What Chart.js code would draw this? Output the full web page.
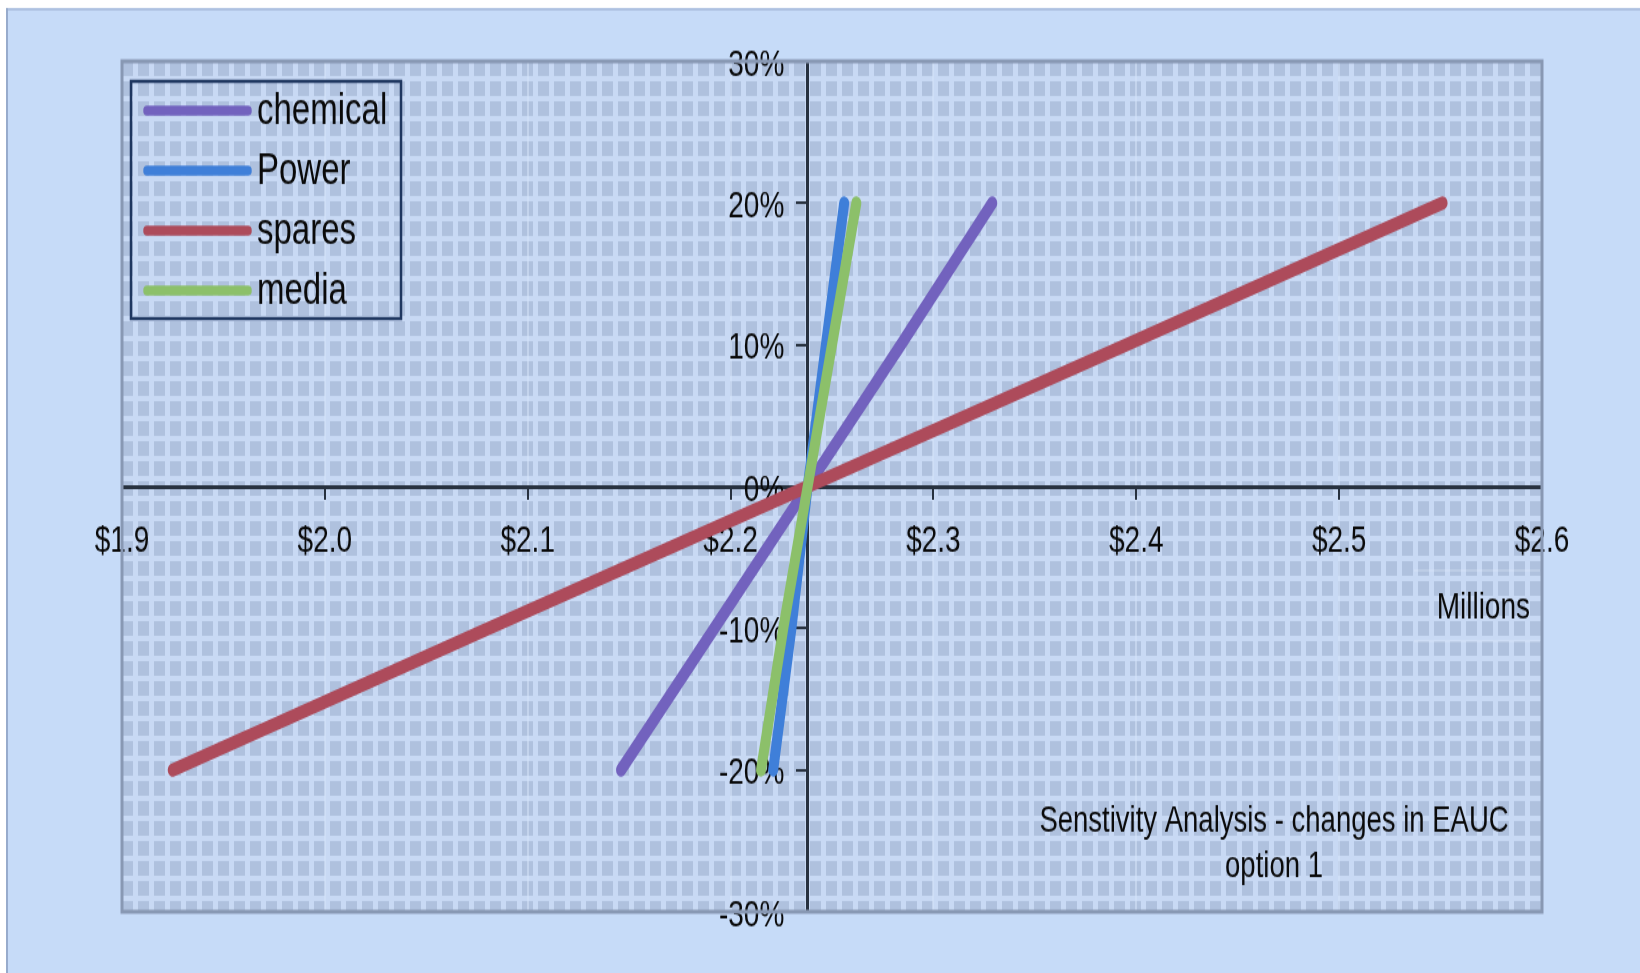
<!DOCTYPE html>
<html>
<head>
<meta charset="utf-8">
<title>Senstivity Analysis - changes in EAUC</title>
<script src="https://cdn.jsdelivr.net/npm/chart.js@4.4.1/dist/chart.umd.min.js"></script>
<style>
html,body{margin:0;padding:0;background:#fff;overflow:hidden}
#chartEAUC{display:block}
</style>
</head>
<body>
<canvas id="chartEAUC" width="1640" height="730" style="width:1640px;height:973px"></canvas>
<script>
// EAUC ($ millions) against the change applied to each input, option 1
var cambios=[-0.2,-0.1,0,0.1,0.2];
var eaucChemical=[2.146,2.192,2.238,2.284,2.329];
var eaucPower=[2.221,2.230,2.238,2.247,2.256];
var eaucSpares=[1.925,2.081,2.238,2.395,2.551];
var eaucMedia=[2.215,2.226,2.238,2.250,2.262];
var series=['chemical','Power','spares','media'];
var colores=['#7262BE','#3F7FD9','#AD4B5B','#8CC06A'];
var ticksX=[1.9,2.0,2.1,2.2,2.3,2.4,2.5,2.6];
var ticksY=[-0.3,-0.2,-0.1,0,0.1,0.2,0.3];
var cruceEjeY=2.238;

var FUENTE='"Liberation Sans", Arial, sans-serif';
var TEXTO='#0a0a0a';

function puntos(valores){
	return valores.map(function(v,i){ return {x:v,y:cambios[i]}; });
}

var patronCache=null;
function patron(ctx,area){
	if(!patronCache){
		var c=document.createElement('canvas');
		c.width=16; c.height=15;
		var p=c.getContext('2d');
		p.fillStyle='#AFC1DE'; p.fillRect(0,0,16,15);
		p.fillStyle='#C8D9F4';
		p.fillRect(11,0,5,15);
		p.fillRect(0,11,16,4);
		patronCache=ctx.createPattern(c,'repeat');
		patronCache.setTransform(new DOMMatrix().translate(area.left,area.top));
	}
	return patronCache;
}

var fondo={
	id:'fondo',
	beforeDraw:function(chart){
		var ctx=chart.ctx, a=chart.chartArea;
		ctx.save();
		ctx.fillStyle='#fff'; ctx.fillRect(0,0,chart.width,chart.height);
		ctx.fillStyle='#C6DBF8'; ctx.fillRect(6,6,chart.width,chart.height);
		ctx.fillStyle='#ADC1E1'; ctx.fillRect(6,6,chart.width,2);
		ctx.fillStyle='#97ABCC'; ctx.fillRect(6,6,2,chart.height);
		ctx.fillStyle=patron(ctx,a);
		ctx.fillRect(a.left,a.top,a.width,a.height);
		ctx.restore();
	},
	beforeDatasetsDraw:function(chart){
		var ctx=chart.ctx, a=chart.chartArea;
		ctx.save();
		ctx.lineWidth=3;
		ctx.strokeStyle='#8898B3';
		ctx.strokeRect(a.left,a.top,a.width,a.height);
		// units box next to the x axis
		ctx.lineWidth=1.2;
		ctx.strokeStyle='rgba(225,235,252,0.55)';
		ctx.beginPath();
		ctx.moveTo(1414,428); ctx.lineTo(a.right-2,428);
		ctx.moveTo(1414,481); ctx.lineTo(a.right-2,481);
		ctx.stroke();
		ctx.restore();
	}
};

var leyenda={
	id:'leyenda',
	afterDraw:function(chart){
		var ctx=chart.ctx;
		ctx.save();
		ctx.lineWidth=2.5;
		ctx.strokeStyle='#1F3760';
		ctx.strokeRect(131,61,270,178);
		ctx.font='33px '+FUENTE;
		ctx.textBaseline='middle';
		ctx.textAlign='left';
		chart.data.datasets.forEach(function(ds,i){
			var y=83+i*45;
			ctx.strokeStyle=ds.borderColor;
			ctx.lineWidth=7.5;
			ctx.lineCap='round';
			ctx.beginPath(); ctx.moveTo(147,y); ctx.lineTo(248,y); ctx.stroke();
			ctx.fillStyle=TEXTO;
			ctx.fillText(ds.label,257,y+1);
		});
		ctx.restore();
	}
};

var textos={
	id:'textos',
	afterDraw:function(chart){
		var ctx=chart.ctx;
		ctx.save();
		ctx.fillStyle=TEXTO;
		ctx.textBaseline='middle';
		ctx.font='28px '+FUENTE;
		ctx.textAlign='right';
		ctx.fillText('Millions',1530,456);
		ctx.font='27.5px '+FUENTE;
		ctx.textAlign='center';
		ctx.fillText('Senstivity Analysis - changes in EAUC',1274,616);
		ctx.fillText('option 1',1274,650);
		ctx.restore();
	}
};

function linea(i,valores,orden){
	return {
		label:series[i],
		data:puntos(valores),
		showLine:true,
		borderColor:colores[i],
		backgroundColor:colores[i],
		borderWidth:10,
		borderCapStyle:'round',
		pointRadius:0,
		pointHoverRadius:0,
		order:orden
	};
}

var chartEAUC=new Chart(document.getElementById('chartEAUC'),{
	type:'scatter',
	data:{
		datasets:[
			linea(0,eaucChemical,4),
			linea(1,eaucPower,3),
			linea(2,eaucSpares,2),
			linea(3,eaucMedia,1)
		]
	},
	options:{
		responsive:false,
		animation:false,
		devicePixelRatio:1,
		layout:{padding:{left:122,right:98,top:46,bottom:46}},
		plugins:{legend:{display:false},tooltip:{enabled:false}},
		scales:{
			x:{
				type:'linear',
				min:1.9,max:2.6,
				position:{y:0},
				afterBuildTicks:function(axis){ axis.ticks=ticksX.map(function(v){return {value:v};}); },
				border:{display:true,color:'#27313F',width:3},
				grid:{drawOnChartArea:true,color:'rgba(214,228,250,0.55)',lineWidth:2,tickColor:'#27313F',tickLength:8},
				ticks:{
					padding:16,
					color:TEXTO,
					font:{family:FUENTE,size:28},
					maxRotation:0,
					callback:function(v){ return '$'+Number(v).toFixed(1); }
				}
			},
			y:{
				type:'linear',
				min:-0.3,max:0.3,
				position:{x:cruceEjeY},
				afterBuildTicks:function(axis){ axis.ticks=ticksY.map(function(v){return {value:v};}); },
				border:{display:true,color:'#27313F',width:3},
				grid:{drawOnChartArea:false,lineWidth:2,tickColor:'#27313F',tickLength:10},
				ticks:{
					color:TEXTO,
					labelOffset:3,
					font:{family:FUENTE,size:28},
					// trailing spaces keep the right-aligned labels clear of the axis line
					callback:function(v){ return Math.round(v*100)+'%   '; }
				}
			}
		}
	},
	plugins:[fondo,leyenda,textos]
});
</script>
</body>
</html>
